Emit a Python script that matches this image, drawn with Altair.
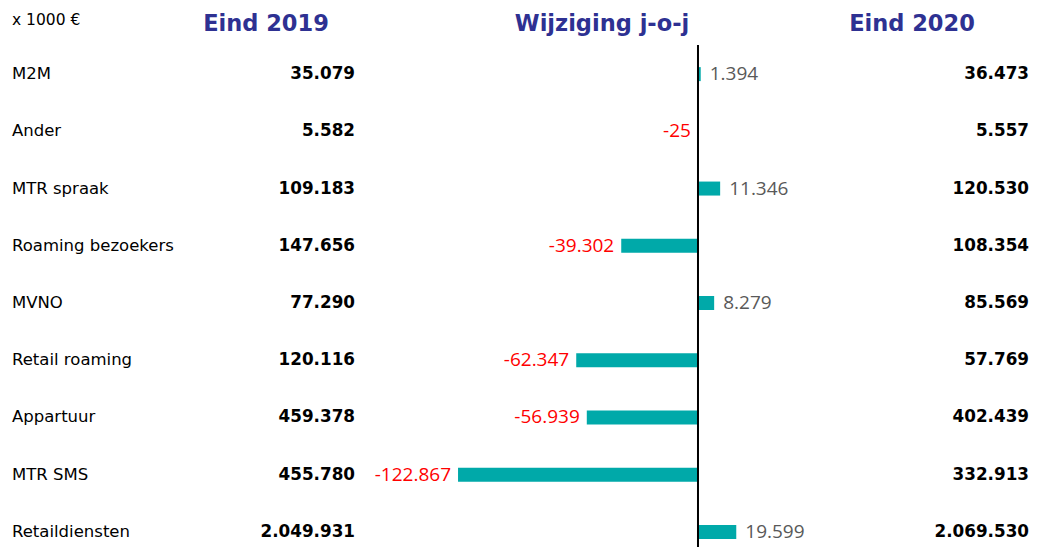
import altair as alt
import pandas as pd

categories = ["M2M", "Ander", "MTR spraak", "Roaming bezoekers", "MVNO",
              "Retail roaming", "Appartuur", "MTR SMS", "Retaildiensten"]
end_2019 = [35079, 5582, 109183, 147656, 77290, 120116, 459378, 455780, 2049931]
change = [1394, -25, 11346, -39302, 8279, -62347, -56939, -122867, 19599]
end_2020 = [36473, 5557, 120530, 108354, 85569, 57769, 402439, 332913, 2069530]

headers = ["Eind 2019", "Wijziging j-o-j", "Eind 2020"]
unit_label = "x 1000 €"


def nl(v):
    s = f"{abs(v):,}".replace(",", ".")
    return ("-" if v < 0 else "") + s


df = pd.DataFrame({
    "cat": categories,
    "e19": end_2019,
    "chg": change,
    "e20": end_2020,
})
df["e19_t"] = df["e19"].map(nl)
df["e20_t"] = df["e20"].map(nl)
df["chg_t"] = df["chg"].map(nl)

W, H = 1022, 539
# zero at chart x=690, ~1.953 px per 1000
xscale = alt.Scale(domain=[-353300, 170000], range=[0, 1022], nice=False, zero=False)
yscale = alt.Scale(domain=categories, range=[37.5, 552.5], paddingInner=0, paddingOuter=0)
Y = alt.Y("cat:N", scale=yscale, axis=None, sort=categories)

base = alt.Chart(df)

bars = base.mark_bar(size=14, color="#00A9A9").encode(
    x=alt.X("chg:Q", scale=xscale, axis=None),
    x2=alt.datum(0),
    y=Y,
)

pos_lbl = base.transform_filter("datum.chg >= 0").mark_text(
    align="left", baseline="middle", dx=9, font="Open Sans", fontSize=19, color="#595959"
).encode(x=alt.X("chg:Q", scale=xscale, axis=None), y=Y, text="chg_t:N")

neg_lbl = base.transform_filter("datum.chg < 0").mark_text(
    align="right", baseline="middle", dx=-7, font="Open Sans", fontSize=19, color="#FF0000"
).encode(x=alt.X("chg:Q", scale=xscale, axis=None), y=Y, text="chg_t:N")

cat_lbl = base.mark_text(
    align="left", baseline="middle", font="DejaVu Sans", fontSize=16.5, color="#000000"
).encode(x=alt.value(4), y=Y, text="cat:N")

e19_lbl = base.mark_text(
    align="right", baseline="middle", font="DejaVu Sans", fontSize=16.8,
    fontWeight="bold", color="#000000"
).encode(x=alt.value(347), y=Y, text="e19_t:N")

e20_lbl = base.mark_text(
    align="right", baseline="middle", font="DejaVu Sans", fontSize=16.8,
    fontWeight="bold", color="#000000"
).encode(x=alt.value(1021), y=Y, text="e20_t:N")

zero_rule = alt.Chart(pd.DataFrame({"z": [0]})).mark_rule(
    color="#000000", strokeWidth=2
).encode(
    x=alt.X("z:Q", scale=xscale, axis=None),
    y=alt.value(37), y2=alt.value(H),
)

hdr_df = pd.DataFrame({"h": headers, "hx": [258, 594, 904]})
hdr = alt.Chart(hdr_df).mark_text(
    align="center", baseline="middle", font="DejaVu Sans", fontSize=22.5,
    fontWeight="bold", color="#2E3192"
).encode(x=alt.X("hx:Q", scale=alt.Scale(domain=[0, W], range=[0, W]), axis=None),
         y=alt.value(16), text="h:N")

unit = alt.Chart(pd.DataFrame({"u": [unit_label]})).mark_text(
    align="left", baseline="middle", font="DejaVu Sans", fontSize=15.5, color="#000000"
).encode(x=alt.value(4), y=alt.value(12), text="u:N")

chart = alt.layer(
    bars, zero_rule, pos_lbl, neg_lbl, cat_lbl, e19_lbl, e20_lbl, hdr, unit
).resolve_scale(x="independent").properties(
    width=W, height=H, padding=0,
    autosize=alt.AutoSizeParams(type="fit", contains="padding"),
).configure_view(stroke=None)

chart.save("out.html", embed_options={"renderer": "svg", "actions": False})
